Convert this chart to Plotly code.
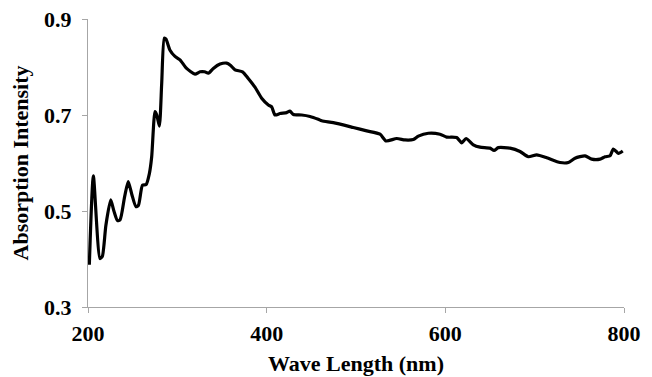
import plotly.graph_objects as go

wavelength = [201.5, 206, 213.4, 216, 220, 225.4, 229, 233, 236, 241, 245, 249, 253.7, 256.5,
              261, 265, 268.7, 271.3, 275, 277, 279.9, 282.5, 285.4, 287.3, 291.8, 297.4, 303,
              310.4, 319.8, 325.4, 330.6, 334.7, 340.3, 347.8, 355.2, 359.7, 364.6, 373, 379.4,
              386.9, 394.4, 401.9, 405.6, 409.3, 414.9, 422.4, 426, 429.9, 439.2, 448.5, 457.8,
              461.6, 474.6, 497, 512, 526.9, 533.6, 545.6, 554.9, 564.2, 569.8, 581, 594, 601.5,
              612.7, 618.3, 623.2, 631.3, 638.8, 650, 654.5, 659.3, 672.4, 683.6, 692.9, 702.3,
              713.5, 728.4, 737.7, 745.2, 756.4, 763.9, 773.2, 778.8, 784.4, 788.1, 793.7, 798.6]
absorption = [0.388, 0.573, 0.401, 0.405, 0.47, 0.523, 0.50, 0.480, 0.482, 0.53, 0.561, 0.535, 0.509, 0.512,
              0.554, 0.555, 0.578, 0.613, 0.707, 0.700, 0.677, 0.766, 0.860, 0.858, 0.835, 0.822, 0.815,
              0.797, 0.785, 0.790, 0.790, 0.787, 0.797, 0.806, 0.808, 0.803, 0.794, 0.790, 0.776,
              0.758, 0.735, 0.721, 0.717, 0.700, 0.703, 0.705, 0.708, 0.701, 0.700, 0.697, 0.691,
              0.688, 0.684, 0.674, 0.667, 0.660, 0.646, 0.651, 0.648, 0.649, 0.656, 0.662, 0.660, 0.654,
              0.653, 0.642, 0.651, 0.638, 0.633, 0.631, 0.626, 0.632, 0.631, 0.624, 0.613, 0.617,
              0.611, 0.601, 0.601, 0.610, 0.615, 0.608, 0.608, 0.613, 0.615, 0.629, 0.620, 0.625]

x_ticks = [200, 400, 600, 800]
y_ticks = [0.3, 0.5, 0.7, 0.9]
y_tick_labels = ["0.3", "0.5", "0.7", "0.9"]

font_family = "Liberation Serif, Times New Roman, serif"

fig = go.Figure()
fig.add_trace(go.Scatter(
    x=wavelength, y=absorption, mode="lines",
    line=dict(color="black", width=3.2, shape="spline", smoothing=0.6),
    hoverinfo="skip", showlegend=False,
))

fig.update_layout(
    width=652, height=377,
    margin=dict(l=80, r=36, t=11, b=78),
    paper_bgcolor="white", plot_bgcolor="white",
    font=dict(family=font_family, color="black", size=22),
)
fig.update_xaxes(
    range=[200, 800], tickvals=x_ticks, ticktext=[str(v) for v in x_ticks],
    showgrid=False, zeroline=False, showline=True, linecolor="#a6a6a6", linewidth=1,
    ticks="outside", ticklen=5, tickcolor="#a6a6a6", automargin=False,
    ticklabeloverflow="allow",
    tickfont=dict(family=font_family, size=22, weight="bold"),
    ticklabelstandoff=2,
    title=dict(text="<b>Wave Length (nm)</b>", font=dict(family=font_family, size=22), standoff=10),
)
fig.update_yaxes(
    range=[0.3, 0.9], tickvals=y_ticks, ticktext=y_tick_labels,
    showgrid=False, zeroline=False, showline=True, linecolor="#a6a6a6", linewidth=1,
    ticks="outside", ticklen=5, tickcolor="#a6a6a6", automargin=False,
    ticklabeloverflow="allow",
    tickfont=dict(family=font_family, size=22, weight="bold"),
    ticklabelstandoff=6,
    title=dict(text="<b>Absorption Intensity</b>", font=dict(family=font_family, size=22), standoff=12),
)

fig.write_html("out.html")
